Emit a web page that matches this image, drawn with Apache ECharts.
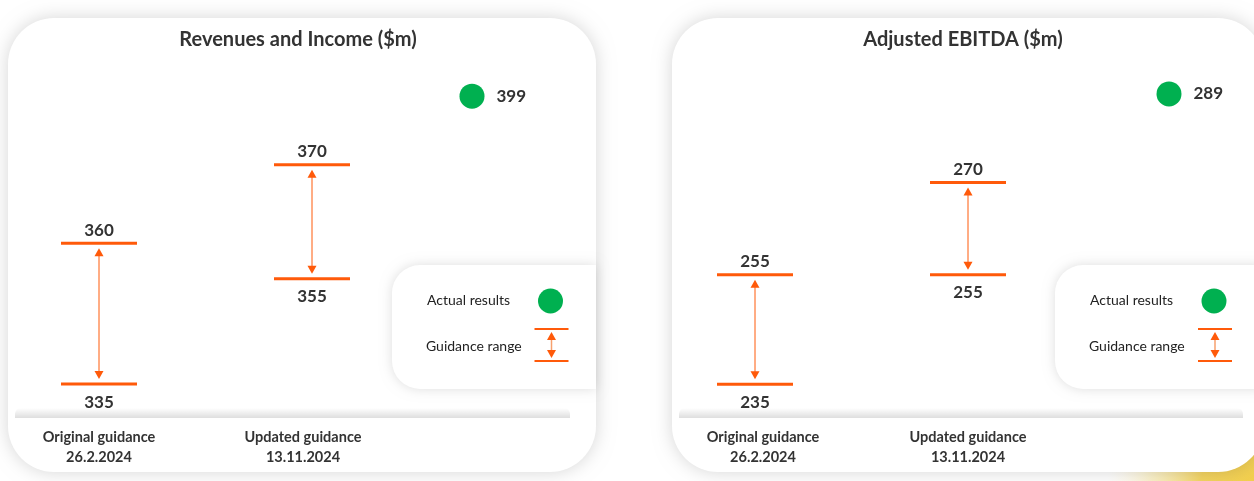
<!DOCTYPE html>
<html>
<head>
<meta charset="utf-8">
<title>Guidance vs actual results</title>
<script src="https://cdn.jsdelivr.net/npm/echarts@6/dist/echarts.min.js"></script>
<style>
  html, body { margin: 0; padding: 0; background: #fff; }
  #chart { width: 1254px; height: 481px; }
</style>
</head>
<body>
<div id="chart"></div>
<script>
// --- data ---
const panelTitles = ['Revenues and Income ($m)', 'Adjusted EBITDA ($m)'];
const guidanceLabels = ['Original guidance\n26.2.2024', 'Updated guidance\n13.11.2024'];
const revenueLow = [335, 355];
const revenueHigh = [360, 370];
const revenueActual = [399];
const ebitdaLow = [235, 255];
const ebitdaHigh = [255, 270];
const ebitdaActual = [289];
const legendLabels = ['Actual results', 'Guidance range'];

// --- look ---
const ORANGE = '#FF5A0A';
const GREEN = '#00B050';
const TEXT = '#333333';
const FONT = 'Lato, "Open Sans", sans-serif';

// column centres per panel (original, updated, actual) and the y range of each column
const columnX = [[99, 312, 472], [755, 968, 1169]];
const columnRanges = [
  [[330.4, 392.5], [337.7, 383.8], [0, 445]],
  [[230.3, 294.2], [233.0, 289.9], [0, 320]]
];
const labelShift = [[0, -9], [8, 0]]; // nudge of the date labels under each guidance column
const panelData = [
  { low: revenueLow, high: revenueHigh, actual: revenueActual },
  { low: ebitdaLow, high: ebitdaHigh, actual: ebitdaActual }
];

function renderRange(params, api) {
  const x = api.coord([0, api.value(1)])[0];
  const yl = api.coord([0, api.value(1)])[1];
  const yh = api.coord([0, api.value(2)])[1];
  const hw = 38, gap = 5, ah = 8, aw = 4.5;
  const numStyle = { fill: TEXT, fontFamily: FONT, fontSize: 17, fontWeight: 'bold', align: 'center', verticalAlign: 'middle' };
  return {
    type: 'group',
    children: [
      { type: 'line', shape: { x1: x, y1: yh + gap + 2, x2: x, y2: yl - gap - 2 }, style: { stroke: ORANGE, lineWidth: 1 } },
      { type: 'polygon', shape: { points: [[x, yh + gap], [x - aw, yh + gap + ah], [x + aw, yh + gap + ah]] }, style: { fill: ORANGE } },
      { type: 'polygon', shape: { points: [[x, yl - gap], [x - aw, yl - gap - ah], [x + aw, yl - gap - ah]] }, style: { fill: ORANGE } },
      { type: 'line', shape: { x1: x - hw, y1: yh, x2: x + hw, y2: yh }, style: { stroke: ORANGE, lineWidth: 3 } },
      { type: 'line', shape: { x1: x - hw, y1: yl, x2: x + hw, y2: yl }, style: { stroke: ORANGE, lineWidth: 3 } },
      { type: 'text', x: x, y: yh - 13, style: Object.assign({ text: String(api.value(2)) }, numStyle) },
      { type: 'text', x: x, y: yl + 18, style: Object.assign({ text: String(api.value(1)) }, numStyle) }
    ]
  };
}

const grid = [], xAxis = [], yAxis = [], series = [];
panelData.forEach((pd, p) => {
  columnX[p].forEach((cx, c) => {
    const idx = grid.length;
    grid.push({ left: cx - 50, width: 100, top: 60, height: 350 });
    const isGuidance = c < 2;
    const shift = isGuidance ? labelShift[p][c] : 0;
    xAxis.push({
      type: 'category', gridIndex: idx,
      data: [isGuidance ? guidanceLabels[c] : legendLabels[0]],
      axisLine: { show: false }, axisTick: { show: false }, splitLine: { show: false },
      z: 5,
      axisLabel: {
        show: isGuidance, interval: 0, margin: 18,
        color: TEXT, fontFamily: FONT, fontSize: 14.5, fontWeight: 'bold', lineHeight: 19.5,
        padding: shift >= 0 ? [0, 0, 0, shift * 2] : [0, -shift * 2, 0, 0]
      }
    });
    yAxis.push({
      type: 'value', gridIndex: idx, show: false,
      min: columnRanges[p][c][0], max: columnRanges[p][c][1]
    });
    if (isGuidance) {
      series.push({
        type: 'custom', name: legendLabels[1], xAxisIndex: idx, yAxisIndex: idx, z: 5,
        renderItem: renderRange,
        data: [[0, pd.low[c], pd.high[c]]]
      });
    } else {
      series.push({
        type: 'scatter', name: legendLabels[0], xAxisIndex: idx, yAxisIndex: idx, z: 5,
        symbol: 'circle', symbolSize: 25,
        itemStyle: { color: GREEN, opacity: 1 },
        label: {
          show: true, position: 'right', distance: 12,
          color: TEXT, fontFamily: FONT, fontSize: 17, fontWeight: 'bold'
        },
        emphasis: { disabled: true },
        data: pd.actual
      });
    }
  });
});

// cards, strips and legend boxes
const cards = [
  { x: 8, w: 588 },
  { x: 672, w: 592 }
];
const graphic = [
  {
    type: 'circle', z: -3, shape: { cx: 1262, cy: 492, r: 155 },
    style: {
      fill: new echarts.graphic.RadialGradient(0.5, 0.5, 0.5, [
        { offset: 0, color: 'rgba(242,205,70,1)' },
        { offset: 0.4, color: 'rgba(243,210,90,0.95)' },
        { offset: 0.72, color: 'rgba(248,228,150,0.5)' },
        { offset: 1, color: 'rgba(255,245,210,0)' }
      ])
    }
  }
];
cards.forEach((cd, p) => {
  graphic.push({
    type: 'rect', z: -2, shape: { x: cd.x, y: 18, width: cd.w, height: 454, r: 46 },
    style: { fill: '#fff', shadowBlur: 18, shadowColor: 'rgba(0,0,0,0.16)' }
  });
  // soft shadow line above the bottom strip
  const sx = cd.x + 7, sw = cd.w - (p === 0 ? 33 : 28);
  graphic.push({
    type: 'rect', z: -1, shape: { x: sx, y: 408, width: sw, height: 10, r: [6, 6, 0, 0] },
    style: {
      fill: new echarts.graphic.LinearGradient(0, 0, 0, 1, [
        { offset: 0, color: 'rgba(0,0,0,0)' },
        { offset: 1, color: 'rgba(0,0,0,0.13)' }
      ])
    }
  });
  graphic.push({
    type: 'rect', z: -1, shape: { x: sx, y: 418, width: sw, height: 48, r: [0, 0, 14, 36] },
    style: { fill: '#fff' }
  });
  const lx = p === 0 ? 392 : 1055;
  graphic.push({
    type: 'rect', z: -1, shape: { x: lx, y: 265, width: cd.x + cd.w - lx, height: 124, r: [28, 0, 0, 28] },
    style: { fill: '#fff', shadowBlur: 12, shadowColor: 'rgba(0,0,0,0.13)' }
  });
  // legend content
  const tx = p === 0 ? 426 : 1089;
  const ix = p === 0 ? 551.5 : 1215;
  const legendText = { fill: '#222', fontFamily: FONT, fontSize: 14, verticalAlign: 'middle' };
  graphic.push({ type: 'text', z: 1, x: tx + 1, y: 300, style: Object.assign({ text: legendLabels[0] }, legendText) });
  graphic.push({ type: 'text', z: 1, x: tx, y: 346, style: Object.assign({ text: legendLabels[1] }, legendText) });
  graphic.push({ type: 'circle', z: 1, shape: { cx: ix - 1, cy: 301, r: 12.5 }, style: { fill: GREEN } });
  graphic.push({
    type: 'group', z: 1,
    children: [
      { type: 'line', shape: { x1: ix - 17, y1: 329, x2: ix + 17, y2: 329 }, style: { stroke: ORANGE, lineWidth: 2 } },
      { type: 'line', shape: { x1: ix - 17, y1: 361, x2: ix + 17, y2: 361 }, style: { stroke: ORANGE, lineWidth: 2 } },
      { type: 'line', shape: { x1: ix, y1: 336, x2: ix, y2: 354 }, style: { stroke: '#F7A06E', lineWidth: 1.5 } },
      { type: 'polygon', shape: { points: [[ix, 332], [ix - 4.5, 340], [ix + 4.5, 340]] }, style: { fill: ORANGE } },
      { type: 'polygon', shape: { points: [[ix, 358], [ix - 4.5, 350], [ix + 4.5, 350]] }, style: { fill: ORANGE } }
    ]
  });
});

const chart = echarts.init(document.getElementById('chart'));
chart.setOption({
  backgroundColor: '#fff',
  animation: false,
  title: panelTitles.map((t, i) => ({
    text: t, left: i === 0 ? 298 : 963, top: 30, textAlign: 'center', padding: 0,
    textStyle: { color: TEXT, fontFamily: FONT, fontSize: 20, fontWeight: 'bold' }
  })),
  graphic: graphic,
  grid: grid,
  xAxis: xAxis,
  yAxis: yAxis,
  series: series
});
</script>
</body>
</html>
